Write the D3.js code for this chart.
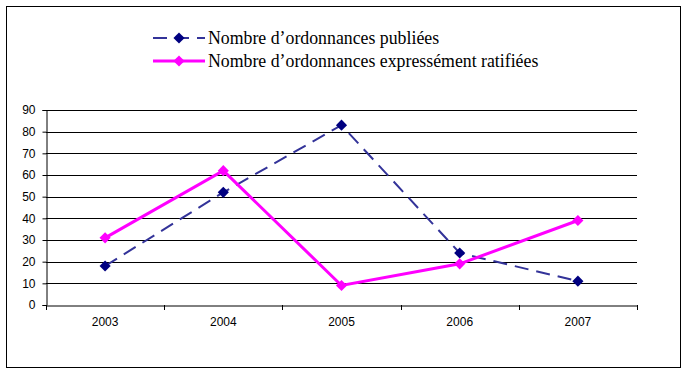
<!DOCTYPE html>
<html lang="fr">
<head>
<meta charset="utf-8">
<script src="https://d3js.org/d3.v7.min.js"></script>
<style>
  body { margin: 0; background: #fff; }
  svg { display: block; }
  .axis-text { font-family: 'Liberation Sans', Arial, sans-serif; font-size: 12px; }
</style>
</head>
<body>
<svg id="chart" width="687" height="374"></svg>
<script>
// data
const years = ['2003', '2004', '2005', '2006', '2007'];
const publiees = [18, 52, 83, 24, 11];
const ratifiees = [31, 62, 9, 19, 39];
const yTicks = [0, 10, 20, 30, 40, 50, 60, 70, 80, 90];
const seriesNames = ["Nombre d\u2019ordonnances publi\u00e9es", "Nombre d\u2019ordonnances express\u00e9ment ratifi\u00e9es"];

const svg = d3.select('#chart');

// frame round the whole chart
svg.append('rect')
  .attr('x', 6.5).attr('y', 6.5)
  .attr('width', 674).attr('height', 361)
  .attr('fill', '#fff').attr('stroke', '#000').attr('stroke-width', 1);

const plotLeft = 46, plotRight = 637, plotTop = 110, plotBottom = 305;

const x = d3.scaleBand().domain(years).range([plotLeft, plotRight]);
const y = d3.scaleLinear().domain([0, 90]).range([plotBottom, plotTop]);

// horizontal gridlines
svg.append('g')
  .selectAll('line')
  .data(yTicks.slice(1))
  .join('line')
  .attr('x1', plotLeft).attr('x2', plotRight)
  .attr('y1', d => Math.round(y(d)) + 0.5).attr('y2', d => Math.round(y(d)) + 0.5)
  .attr('stroke', '#000').attr('stroke-width', 1);

// y axis
const yAxis = svg.append('g')
  .attr('transform', `translate(${plotLeft + 0.5},0)`)
  .call(d3.axisLeft(y).tickValues(yTicks).tickSize(4).tickPadding(7));
yAxis.attr('font-family', null).attr('font-size', null);
yAxis.select('.domain').attr('stroke', '#000');
yAxis.selectAll('.tick line').attr('stroke', '#000');
yAxis.selectAll('.tick text').attr('class', 'axis-text').attr('fill', '#000');

// x axis (ticks between categories)
const xAxis = svg.append('g')
  .attr('transform', `translate(0,${plotBottom + 0.5})`)
  .call(d3.axisBottom(x).tickSize(0).tickPadding(12));
xAxis.attr('font-family', null).attr('font-size', null);
xAxis.select('.domain').attr('stroke', '#000');
xAxis.selectAll('.tick text').attr('class', 'axis-text').attr('fill', '#000');
svg.append('g')
  .selectAll('line')
  .data(years.concat(['end']))
  .join('line')
  .attr('x1', (d, i) => Math.round(plotLeft + i * x.step()) + 0.5)
  .attr('x2', (d, i) => Math.round(plotLeft + i * x.step()) + 0.5)
  .attr('y1', plotBottom).attr('y2', plotBottom + 5)
  .attr('stroke', '#000');

const cx = d => x(d) + x.bandwidth() / 2;
const line = d3.line().x(d => cx(d.year)).y(d => y(d.value));
// square turned 45 degrees, like the Excel diamond marker
const diamond = d3.symbol().type(d3.symbolSquare).size(62);

function drawSeries(values, lineColor, markColor, width, dash) {
  const pts = years.map((yr, i) => ({ year: yr, value: values[i] }));
  svg.append('path')
    .datum(pts)
    .attr('d', line)
    .attr('fill', 'none')
    .attr('stroke', lineColor)
    .attr('stroke-width', width)
    .attr('stroke-dasharray', dash);
  svg.append('g')
    .selectAll('path')
    .data(pts)
    .join('path')
    .attr('transform', d => `translate(${cx(d.year)},${y(d.value)}) rotate(45)`)
    .attr('d', diamond)
    .attr('fill', markColor);
}

drawSeries(publiees, '#333399', '#000080', 2, '14,8');
drawSeries(ratifiees, '#FF00FF', '#FF00FF', 3, null);

// legend
const legend = [
  { name: seriesNames[0], y: 38, line: '#333399', mark: '#000080', w: 2, dash: '14,8' },
  { name: seriesNames[1], y: 61, line: '#FF00FF', mark: '#FF00FF', w: 3, dash: null }
];
const lg = svg.append('g').selectAll('g').data(legend).join('g');
lg.append('line')
  .attr('x1', 153).attr('x2', 205)
  .attr('y1', d => d.y).attr('y2', d => d.y)
  .attr('stroke', d => d.line).attr('stroke-width', d => d.w)
  .attr('stroke-dasharray', d => d.dash);
lg.append('path')
  .attr('transform', d => `translate(179,${d.y}) rotate(45)`)
  .attr('d', diamond)
  .attr('fill', d => d.mark);
lg.append('text')
  .attr('x', 208).attr('y', d => d.y + 6)
  .attr('fill', '#000')
  .style('font-family', '"Liberation Serif", "DejaVu Serif", serif')
  .style('font-size', '17.8px')
  .text(d => d.name);
</script>
</body>
</html>
